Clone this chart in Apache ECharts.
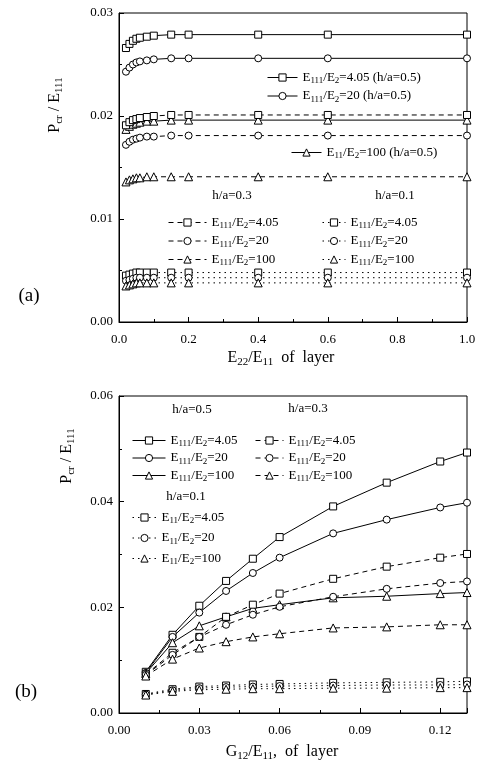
<!DOCTYPE html>
<html>
<head>
<meta charset="utf-8">
<script src="https://cdn.jsdelivr.net/npm/echarts@6/dist/echarts.min.js"></script>
<style>html,body{margin:0;padding:0;background:#fff}#c{width:485px;height:763px}</style>
</head>
<body>
<div id="c"></div>
<script>
// ---- Panel (a): E22/E11 of layer ----
var xA = [0.02,0.03,0.04,0.05,0.06,0.08,0.1,0.15,0.2,0.4,0.6,1.0];
var a05_405 = [0.0266,0.0270,0.0273,0.0275,0.0276,0.0277,0.0278,0.0279,0.0279,0.0279,0.0279,0.0279];
var a05_20  = [0.0243,0.0247,0.0250,0.0252,0.0253,0.0254,0.0255,0.0256,0.0256,0.0256,0.0256,0.0256];
var a05_100 = [0.0187,0.0190,0.0192,0.0193,0.0194,0.0195,0.0195,0.0196,0.0196,0.0196,0.0196,0.0196];
var a03_405 = [0.0191,0.0194,0.0196,0.0197,0.0198,0.0199,0.0200,0.0201,0.0201,0.0201,0.0201,0.0201];
var a03_20  = [0.0172,0.0175,0.0177,0.0178,0.0179,0.0180,0.0180,0.0181,0.0181,0.0181,0.0181,0.0181];
var a03_100 = [0.0136,0.0138,0.0139,0.0140,0.0140,0.0141,0.0141,0.0141,0.0141,0.0141,0.0141,0.0141];
var a01_405 = [0.0045,0.0046,0.0047,0.0048,0.0048,0.0048,0.0048,0.0048,0.0048,0.0048,0.0048,0.0048];
var a01_20  = [0.0040,0.0041,0.0042,0.0043,0.0043,0.0043,0.0043,0.0043,0.0043,0.0043,0.0043,0.0043];
var a01_100 = [0.0035,0.0036,0.0037,0.0038,0.0038,0.0038,0.0038,0.0038,0.0038,0.0038,0.0038,0.0038];
var xTicksA = [0, 1.0, 0.2];      // min, max, interval
var yTicksA = [0, 0.03, 0.01];

// ---- Panel (b): G12/E11 of layer ----
var xB = [0.01,0.02,0.03,0.04,0.05,0.06,0.08,0.10,0.12,0.13];
var b05_405 = [0.0078,0.0148,0.0203,0.0250,0.0292,0.0333,0.0391,0.0436,0.0476,0.0493];
var b05_20  = [0.0076,0.0144,0.0190,0.0231,0.0265,0.0294,0.0340,0.0366,0.0389,0.0398];
var b05_100 = [0.0075,0.0133,0.0165,0.0182,0.0198,0.0205,0.0218,0.0221,0.0226,0.0228];
var b03_405 = [0.0073,0.0114,0.0144,0.0182,0.0205,0.0226,0.0254,0.0277,0.0294,0.0301];
var b03_20  = [0.0072,0.0110,0.0144,0.0167,0.0186,0.0201,0.0220,0.0235,0.0246,0.0249];
var b03_100 = [0.0070,0.0102,0.0123,0.0135,0.0144,0.0150,0.0161,0.0163,0.0167,0.0167];
var b01_405 = [0.0036,0.0045,0.0050,0.0052,0.0054,0.0055,0.0057,0.0058,0.0059,0.0060];
var b01_20  = [0.0035,0.0043,0.0047,0.0049,0.0050,0.0051,0.0052,0.0053,0.0053,0.0054];
var b01_100 = [0.0034,0.0041,0.0044,0.0045,0.0046,0.0046,0.0047,0.0047,0.0048,0.0048];
var xTicksB = [0, 0.13, 0.03];
var yTicksB = [0, 0.06, 0.02];

var FONT = 'Liberation Serif';
function R(parts){ // parts: [text, sub, text, sub, ...]
  var s = '';
  for (var i=0;i<parts.length;i++){ if(parts[i]==='') continue; s += (i%2===0?'{n|':'{s|') + parts[i] + '}'; }
  return s;
}
var LABELS = {
  'a05_405': R(['E','111','/E','2','=4.05 (h/a=0.5)']),
  'a05_20':  R(['E','111','/E','2','=20 (h/a=0.5)']),
  'a05_100': R(['E','11','/E','2','=100 (h/a=0.5)']),
  'a03_405': R(['E','111','/E','2','=4.05']),
  'a03_20':  R(['E','111','/E','2','=20']),
  'a03_100': R(['E','111','/E','2','=100']),
  'a01_405': R(['E','111','/E','2','=4.05']),
  'a01_20':  R(['E','111','/E','2','=20']),
  'a01_100': R(['E','111','/E','2','=100']),
  'b05_405': R(['E','111','/E','2','=4.05']),
  'b05_20':  R(['E','111','/E','2','=20']),
  'b05_100': R(['E','111','/E','2','=100']),
  'b03_405': R(['E','111','/E','2','=4.05']),
  'b03_20':  R(['E','111','/E','2','=20']),
  'b03_100': R(['E','111','/E','2','=100']),
  'b01_405': R(['E','11','/E','2','=4.05']),
  'b01_20':  R(['E','11','/E','2','=20']),
  'b01_100': R(['E','11','/E','2','=100'])
};
var richSmall = {
  n: {fontFamily: FONT, fontSize: 13, lineHeight: 16, color: '#000'},
  s: {fontFamily: FONT, fontSize: 9, lineHeight: 9, verticalAlign: 'bottom', color: '#000'}
};
var richBig = {
  n: {fontFamily: FONT, fontSize: 16, lineHeight: 20, color: '#000'},
  s: {fontFamily: FONT, fontSize: 11, lineHeight: 11, verticalAlign: 'bottom', color: '#000'}
};

var STY = {'05': 'solid', '03': [5,4], '01': [1.5,4]};
var SYM = {'405': 'rect', '20': 'circle', '100': 'triangle'};
function mk(name, grid, xs, ys){
  var p = name.split('_'); var ha = p[0].slice(1); var e = p[1];
  var data = xs.map(function(x,i){ return [x, ys[i]]; });
  return {
    name: name, type: 'line', xAxisIndex: grid, yAxisIndex: grid, data: data,
    symbol: SYM[e], symbolSize: e==='100' ? 8 : 7,
    lineStyle: {color: '#000', width: 1, type: STY[ha]},
    itemStyle: {color: '#fff', borderColor: '#000', borderWidth: 1},
    emphasis: {disabled: true}, animation: false, z: 3
  };
}
var series = [
  mk('a05_405',0,xA,a05_405), mk('a05_20',0,xA,a05_20), mk('a05_100',0,xA,a05_100),
  mk('a03_405',0,xA,a03_405), mk('a03_20',0,xA,a03_20), mk('a03_100',0,xA,a03_100),
  mk('a01_405',0,xA,a01_405), mk('a01_20',0,xA,a01_20), mk('a01_100',0,xA,a01_100),
  mk('b05_405',1,xB,b05_405), mk('b05_20',1,xB,b05_20), mk('b05_100',1,xB,b05_100),
  mk('b03_405',1,xB,b03_405), mk('b03_20',1,xB,b03_20), mk('b03_100',1,xB,b03_100),
  mk('b01_405',1,xB,b01_405), mk('b01_20',1,xB,b01_20), mk('b01_100',1,xB,b01_100)
];

function axis(grid, ticks, digits, isY, extra){
  var o = {
    type: 'value', gridIndex: grid, min: ticks[0], max: ticks[1], interval: ticks[2],
    axisLine: {show: true, lineStyle: {color: '#000', width: 1}},
    axisTick: {show: true, inside: true, length: 5, lineStyle: {color: '#000'}},
    minorTick: {show: true, splitNumber: 2, length: 3, lineStyle: {color: '#000'}},
    splitLine: {show: false}, minorSplitLine: {show: false},
    axisLabel: {fontFamily: FONT, fontSize: 13, color: '#000', margin: isY ? 6 : 11,
      formatter: function(v){ return v.toFixed(digits); }}
  };
  if (extra) for (var k in extra) o.axisLabel[k] = extra[k];
  return o;
}

function legend(names, left, top, iw, gap){
  return {
    data: names, left: left, top: top, orient: 'vertical', padding: 0,
    itemWidth: iw, itemHeight: 9, itemGap: gap, selectedMode: false,
    lineStyle: {width: 1},
    itemStyle: {borderWidth: 1},
    textStyle: {rich: richSmall},
    formatter: function(n){ return LABELS[n]; }
  };
}

function gtext(txt, x, y, rich, rot){
  return {type: 'text', x: x, y: y, rotation: rot || 0, silent: true,
    style: {text: txt, rich: rich, align: 'center', verticalAlign: 'middle', fill: '#000',
      font: (rich===richBig?'16px ':'13px ') + FONT}};
}

var option = {
  backgroundColor: '#fff',
  animation: false,
  grid: [
    {left: 119, top: 13, width: 348, height: 309, show: true, borderColor: '#000', borderWidth: 1, backgroundColor: 'transparent'},
    {left: 119, top: 396, width: 348, height: 317, show: true, borderColor: '#000', borderWidth: 1, backgroundColor: 'transparent'}
  ],
  xAxis: [axis(0, xTicksA, 1, false), axis(1, xTicksB, 2, false, {showMaxLabel: false})],
  yAxis: [axis(0, yTicksA, 2, true), axis(1, yTicksB, 2, true)],
  legend: [
    legend(['a05_405','a05_20'], 267, 71, 30, 4),
    legend(['a05_100'], 291, 146, 30, 4),
    legend(['a03_405','a03_20','a03_100'], 168, 216, 38, 4),
    legend(['a01_405','a01_20','a01_100'], 322, 216, 23, 4),
    legend(['b05_405','b05_20','b05_100'], 132, 434, 33, 3),
    legend(['b03_405','b03_20','b03_100'], 255, 434, 28, 3),
    legend(['b01_405','b01_20','b01_100'], 132, 511, 24, 6)
  ],
  graphic: [
    gtext('{n|h/a=0.3}', 232, 196, richSmall),
    gtext('{n|h/a=0.1}', 395, 196, richSmall),
    gtext('{n|h/a=0.5}', 192, 410, richSmall),
    gtext('{n|h/a=0.3}', 308, 409, richSmall),
    gtext('{n|h/a=0.1}', 186, 497, richSmall),
    gtext(R(['E','22','/E','11','  of  layer']), 281, 358, richBig),
    gtext(R(['G','12','/E','11',',  of  layer']), 282, 752, richBig),
    gtext(R(['P','cr',' / E','111']), 55, 105, richBig, Math.PI/2),
    gtext(R(['P','cr',' / E','111']), 67, 456, richBig, Math.PI/2),
    gtext('{n|(a)}', 29, 296, {n: {fontFamily: FONT, fontSize: 19, color: '#000'}}),
    gtext('{n|(b)}', 26, 692, {n: {fontFamily: FONT, fontSize: 19, color: '#000'}})
  ],
  series: series
};
var chart = echarts.init(document.getElementById('c'), null, {renderer: 'canvas'});
chart.setOption(option);
</script>
</body>
</html>
